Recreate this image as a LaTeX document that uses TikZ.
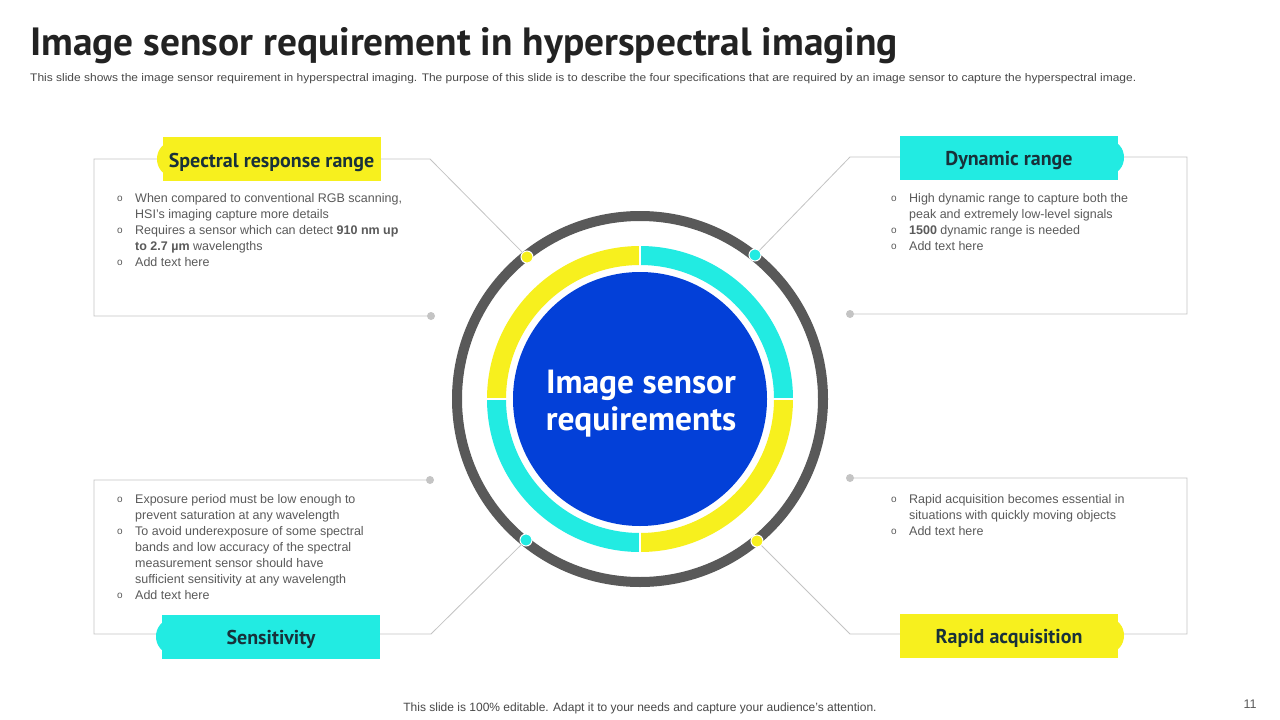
\documentclass[tikz,border=0pt]{standalone}
\usepackage{fontspec}
\setmainfont{Liberation Sans}
\newfontfamily\headfont{PT Sans}
\usepackage{array}
\definecolor{ylw}{HTML}{F7F01E}
\definecolor{cyn}{HTML}{22EBE2}
\definecolor{blu}{HTML}{0340D8}
\definecolor{ringc}{HTML}{595959}
\definecolor{linec}{HTML}{C4C4C4}
\definecolor{txtc}{HTML}{5A5A5A}
\definecolor{lblc}{HTML}{18313A}
\definecolor{titlec}{HTML}{222222}
\newcommand\blt{\raisebox{0.5pt}{\fontsize{10}{10}\selectfont o}}
\tikzset{
  conn/.style={draw=linec, line width=0.8pt},
  enddot/.style={circle, fill=linec, minimum size=8pt, inner sep=0pt},
  ringdot/.style={circle, draw=white, line width=1pt, minimum size=12pt, inner sep=0pt},
  lblbox/.style={rectangle, minimum width=218pt, minimum height=44pt, inner sep=0pt,
     text height=16pt, text depth=0pt,
     font=\headfont\bfseries\fontsize{20}{22}\selectfont, text=lblc},
  lblcap/.style={ellipse, minimum width=26pt, minimum height=32pt, inner sep=0pt},
  txtblk/.style={anchor=north west, inner sep=0pt, text=txtc, font=\fontsize{12.5}{16}\selectfont, align=left},
}
\usetikzlibrary{shapes.geometric}
\begin{document}
\begin{tikzpicture}[x=1pt,y=-1pt]
\useasboundingbox (0,0) rectangle (1280,720);
\fill[white] (0,0) rectangle (1280,720);

% title
\node[anchor=base west, inner sep=0pt, text=titlec, font=\headfont\bfseries\fontsize{39.4}{42}\selectfont] (title) at (30,55) {Image sensor requirement in hyperspectral imaging};
\node[anchor=base west, inner sep=0pt, text=txtc!80!black, font=\fontsize{11}{12}\selectfont] (sub) at (30,81) {\scalebox{1.09}[1]{This slide shows the image sensor requirement in hyperspectral imaging. The purpose of this slide is to describe the four specifications that are required by an image sensor to capture the hyperspectral image.}};

% central rings
\coordinate (C) at (640,399);
\draw[ringc, line width=10pt] (C) circle[radius=183pt];
\draw[ylw, line width=19pt] ([shift={(90:143.5pt)}]C) arc[start angle=90, end angle=180, radius=143.5pt];
\draw[cyn, line width=19pt] ([shift={(0:143.5pt)}]C) arc[start angle=0, end angle=90, radius=143.5pt];
\draw[ylw, line width=19pt] ([shift={(270:143.5pt)}]C) arc[start angle=270, end angle=360, radius=143.5pt];
\draw[cyn, line width=19pt] ([shift={(180:143.5pt)}]C) arc[start angle=180, end angle=270, radius=143.5pt];
\draw[white, line width=1.5pt] ([xshift=-160pt]C) -- ([xshift=160pt]C);
\draw[white, line width=1.5pt] ([yshift=-160pt]C) -- ([yshift=160pt]C);
\node[circle, fill=blu, minimum size=254pt, inner sep=0pt] (core) at (C) {};
\node[inner sep=0pt, text=white, align=center,
  font=\headfont\bfseries\fontsize{33.5}{37}\selectfont] (coretext) at (641,404) {Image sensor\\requirements};

% box corners
\coordinate (a1) at (430,159); \coordinate (a2) at (94,159); \coordinate (a3) at (94,316);
\coordinate (b1) at (850,157); \coordinate (b2) at (1187,157); \coordinate (b3) at (1187,314);
\coordinate (c1) at (94,480); \coordinate (c2) at (94,634); \coordinate (c3) at (431,634);
\coordinate (e1) at (1187,478); \coordinate (e2) at (1187,634); \coordinate (e3) at (850,634);

% end dots
\node[enddot] (ea) at (431,316) {};
\node[enddot] (eb) at (850,314) {};
\node[enddot] (ec) at (430,480) {};
\node[enddot] (ee) at (850,478) {};

% ring dots
\node[ringdot, fill=ylw] (da) at (527,257) {};
\node[ringdot, fill=cyn] (db) at (755,255) {};
\node[ringdot, fill=cyn] (dc) at (526,540) {};
\node[ringdot, fill=ylw] (de) at (757,541) {};

% connectors / box outlines
\draw[conn] (da) -- (a1) -- (a2) -- (a3) -- (ea);
\draw[conn] (db) -- (b1) -- (b2) -- (b3) -- (eb);
\draw[conn] (ec) -- (c1) -- (c2) -- (c3) -- (dc);
\draw[conn] (ee) -- (e1) -- (e2) -- (e3) -- (de);

% labels
\node[lblcap, fill=ylw] (capa) at (170,159) {};
\node[lblbox, fill=ylw] (la) at (271.5,159) {Spectral response range};
\node[lblcap, fill=cyn] (capb) at (1111,157.5) {};
\node[lblbox, fill=cyn] (lb) at (1009,157.5) {Dynamic range};
\node[lblcap, fill=cyn] (capc) at (169,636.5) {};
\node[lblbox, fill=cyn] (lc) at (271,636.5) {Sensitivity};
\node[lblcap, fill=ylw] (cape) at (1111,635.5) {};
\node[lblbox, fill=ylw] (le) at (1009,635.5) {Rapid acquisition};

% text blocks
\node[txtblk] (ta) at (117,191) {\begin{tabular}{@{}p{18pt}@{}l@{}}
\blt & When compared to conventional RGB scanning,\\
 & HSI's imaging capture more details\\
\blt & Requires a sensor which can detect \textbf{910 nm up}\\
 & \textbf{to 2.7 µm} wavelengths\\
\blt & Add text here
\end{tabular}};
\node[txtblk] (tb) at (891,191) {\begin{tabular}{@{}p{18pt}@{}l@{}}
\blt & High dynamic range to capture both the\\
 & peak and extremely low-level signals\\
\blt & \textbf{1500} dynamic range is needed\\
\blt & Add text here
\end{tabular}};
\node[txtblk] (tc) at (117,492) {\begin{tabular}{@{}p{18pt}@{}l@{}}
\blt & Exposure period must be low enough to\\
 & prevent saturation at any wavelength\\
\blt & To avoid underexposure of some spectral\\
 & bands and low accuracy of the spectral\\
 & measurement sensor should have\\
 & sufficient sensitivity at any wavelength\\
\blt & Add text here
\end{tabular}};
\node[txtblk] (te) at (891,492) {\begin{tabular}{@{}p{18pt}@{}l@{}}
\blt & Rapid acquisition becomes essential in\\
 & situations with quickly moving objects\\
\blt & Add text here
\end{tabular}};

% footer
\node[inner sep=0pt, text=txtc!80!black, font=\fontsize{12}{13}\selectfont] (foot) at (640,708) {This slide is 100\% editable. Adapt it to your needs and capture your audience's attention.};
\node[inner sep=0pt, text=txtc, font=\fontsize{12.5}{13}\selectfont] (pg) at (1250,704) {11};
\end{tikzpicture}
\end{document}
